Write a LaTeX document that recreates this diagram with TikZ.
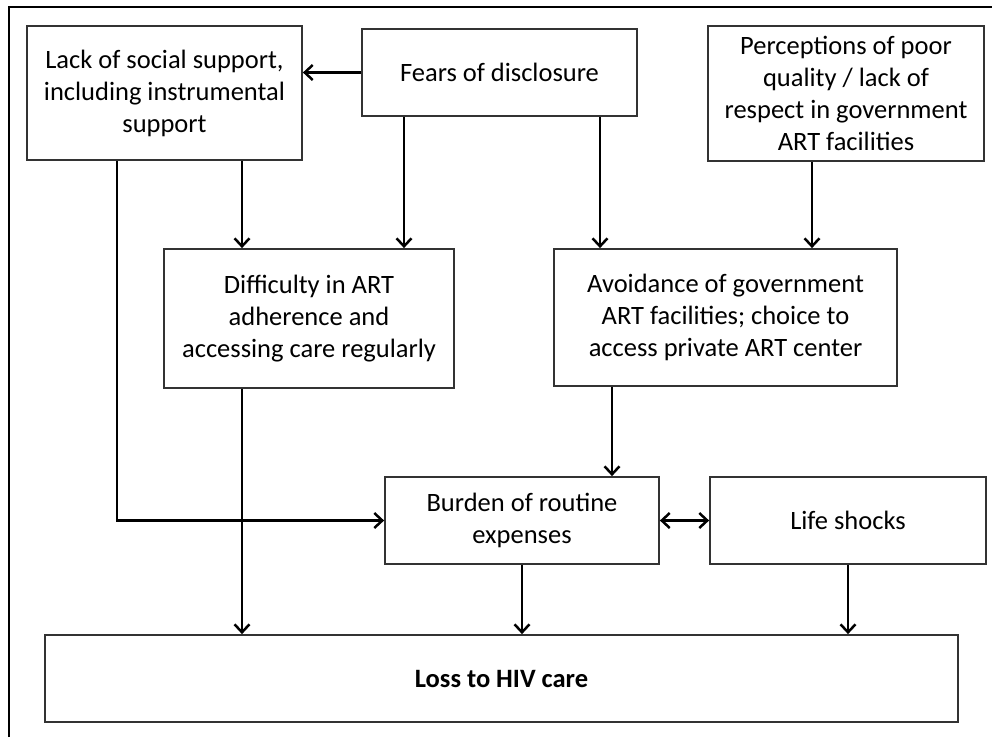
\documentclass[tikz,border=0pt]{standalone}
\usepackage{fontspec}
\setmainfont{Carlito}
\usetikzlibrary{arrows.meta}
\begin{document}
\begin{tikzpicture}[x=1pt,y=-1pt,
  box/.style={draw=black!80, line width=1.8pt, align=center, inner sep=2pt,
    font=\fontsize{26.5}{32}\selectfont},
  tip/.tip={Straight Barb[length=8pt,width=15pt,line width=2.5pt]},
  arr/.style={line width=2.6pt, -tip},
  darr/.style={line width=2.6pt, tip-tip}]
\useasboundingbox (0,0) rectangle (992,737);
\draw[line width=2.5pt] (9,737) -- (9,7) -- (992,7);
\node[box, minimum width=275, minimum height=134] (lack) at (164.5,93) {Lack of social support,\\including instrumental\\support};
\node[box, minimum width=275, minimum height=87] (fears) at (499.5,72.5) {Fears of disclosure};
\node[box, minimum width=276, minimum height=135] (perc) at (846,93.5) {Perceptions of poor\\quality / lack of\\respect in government\\ART facilities};
\node[box, minimum width=290, minimum height=139] (diff) at (309,318.5) {Difficulty in ART\\adherence and\\accessing care regularly};
\node[box, minimum width=343, minimum height=137] (avoid) at (725.5,317.5) {Avoidance of government\\ART facilities; choice to\\access private ART center};
\node[box, minimum width=274, minimum height=87] (burden) at (522,520.5) {Burden of routine\\expenses};
\node[box, minimum width=276, minimum height=87] (life) at (848,520.5) {Life shocks};
\node[box, minimum width=913, minimum height=87] (loss) at (501.5,678.5) {\bfseries Loss to HIV care};
% arrows
\draw[arr] (fears.west) -- (fears.west -| lack.east);
\draw[arr] (242,0 |- lack.south) -- (242,0 |- diff.north);
\draw[arr] (404,0 |- fears.south) -- (404,0 |- diff.north);
\draw[arr] (600,0 |- fears.south) -- (600,0 |- avoid.north);
\draw[arr] (812,0 |- perc.south) -- (812,0 |- avoid.north);
\draw[arr] (117,0 |- lack.south) |- (burden.west);
\draw[arr] (242,0 |- diff.south) -- (242,0 |- loss.north);
\draw[arr] (612,0 |- avoid.south) -- (612,0 |- burden.north);
\draw[darr] (burden.east) -- (life.west);
\draw[arr] (522,0 |- burden.south) -- (522,0 |- loss.north);
\draw[arr] (848,0 |- life.south) -- (848,0 |- loss.north);
\end{tikzpicture}
\end{document}
